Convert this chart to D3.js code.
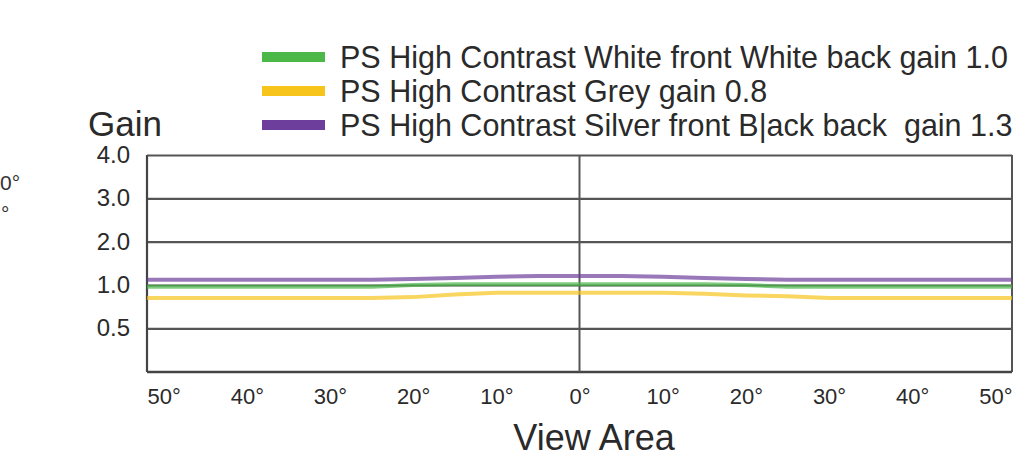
<!DOCTYPE html>
<html>
<head>
<meta charset="utf-8">
<script src="https://cdn.jsdelivr.net/npm/d3@7"></script>
<style>
  body { margin: 0; background: #fff; }
  svg { font-family: "Liberation Sans", Arial, Helvetica, sans-serif; }
  .legend text { white-space: pre; }
</style>
</head>
<body>
<div id="chart"></div>
<script>
// view angle in degrees (negative = left side of the screen)
var angles = [-52, -50, -45, -40, -35, -30, -25, -20, -15, -10, -5, 0, 5, 10, 15, 20, 25, 30, 35, 40, 45, 50, 52];

var greenGain  = [0.98, 0.98, 0.98, 0.98, 0.98, 0.98, 0.98, 1.00, 1.02, 1.02, 1.02, 1.02, 1.02, 1.02, 1.02, 1.00, 0.98, 0.98, 0.98, 0.98, 0.98, 0.98, 0.98];
var yellowGain = [0.85, 0.85, 0.85, 0.85, 0.85, 0.85, 0.85, 0.86, 0.89, 0.91, 0.91, 0.91, 0.91, 0.91, 0.90, 0.88, 0.87, 0.85, 0.85, 0.85, 0.85, 0.85, 0.85];
var purpleGain = [1.12, 1.12, 1.12, 1.12, 1.12, 1.12, 1.12, 1.14, 1.16, 1.19, 1.21, 1.21, 1.21, 1.19, 1.16, 1.14, 1.12, 1.12, 1.12, 1.12, 1.12, 1.12, 1.12];

var seriesNames = [
  "PS High Contrast White front White back gain 1.0",
  "PS High Contrast Grey gain 0.8",
  "PS High Contrast Silver front B|ack back  gain 1.3"
];
var seriesColors = ["#4cb848", "#f7c41c", "#6d3e9c"];

var yTicks = [0.5, 1.0, 2.0, 3.0, 4.0];
var xTicks = [-50, -40, -30, -20, -10, 0, 10, 20, 30, 40, 50];

var width = 1016;
var height = 464;

var svg = d3.select("#chart")
  .append("svg")
  .attr("width", width)
  .attr("height", height);

// plot box (plotTop, not "top": that name is taken by window.top)
var plotLeft = 147, plotRight = 1012, plotTop = 155, plotBottom = 372;

var xScale = d3.scaleLinear()
  .domain([-52, 52])
  .range([plotLeft, plotRight]);

// the gain axis is not linear: each tick gets the same spacing
var yScale = d3.scaleLinear()
  .domain([0, 0.5, 1, 2, 3, 4])
  .range([plotBottom, 328.3, 285, 241.7, 198.3, plotTop]);

// gridlines + y labels
var yAxis = d3.axisLeft(yScale)
  .tickValues(yTicks)
  .tickFormat(d3.format(".1f"))
  .tickSize(-(plotRight - plotLeft))
  .tickPadding(17);

var yG = svg.append("g")
  .attr("class", "yAxis")
  .attr("transform", "translate(" + plotLeft + ",0)")
  .call(yAxis);
yG.select(".domain").remove();
yG.selectAll("line").attr("stroke", "#555").attr("stroke-width", 2.2);
yG.selectAll("text")
  .attr("font-size", 24)
  .attr("fill", "#2a2a2a");

// x labels
var xAxis = d3.axisBottom(xScale)
  .tickValues(xTicks)
  .tickFormat(function(d) { return Math.abs(d) + "°"; })
  .tickSize(0)
  .tickPadding(16);

var xG = svg.append("g")
  .attr("class", "xAxis")
  .attr("transform", "translate(0," + plotBottom + ")")
  .call(xAxis);
xG.select(".domain").remove();
xG.selectAll("text")
  .attr("font-size", 22)
  .attr("fill", "#2a2a2a");

// frame: left, right, bottom and centre line
svg.append("line")
  .attr("x1", plotLeft).attr("x2", plotLeft).attr("y1", plotTop).attr("y2", plotBottom)
  .attr("stroke", "#444").attr("stroke-width", 2.2);
svg.append("line")
  .attr("x1", plotRight).attr("x2", plotRight).attr("y1", plotTop).attr("y2", plotBottom)
  .attr("stroke", "#555").attr("stroke-width", 2);
svg.append("line")
  .attr("x1", plotLeft).attr("x2", plotRight).attr("y1", plotBottom).attr("y2", plotBottom)
  .attr("stroke", "#444").attr("stroke-width", 2.6);
svg.append("line")
  .attr("x1", xScale(0)).attr("x2", xScale(0)).attr("y1", plotTop).attr("y2", plotBottom)
  .attr("stroke", "#555").attr("stroke-width", 2);

// the three gain curves
var allGain = [greenGain, yellowGain, purpleGain];
var line = d3.line()
  .x(function(d, i) { return xScale(angles[i]); })
  .y(function(d) { return yScale(d); });

svg.selectAll("path.gain")
  .data(allGain)
  .enter()
  .append("path")
  .attr("class", "gain")
  .attr("d", line)
  .attr("fill", "none")
  .attr("stroke", function(d, i) { return seriesColors[i]; })
  .attr("stroke-opacity", 0.7)
  .attr("stroke-width", 4);

// legend
var legend = svg.append("g").attr("class", "legend");
var rowY = [57, 91, 125];
seriesNames.forEach(function(name, i) {
  legend.append("rect")
    .attr("x", 262).attr("y", rowY[i] - 5)
    .attr("width", 63).attr("height", 10)
    .attr("fill", seriesColors[i]);
  legend.append("text")
    .attr("x", 340).attr("y", rowY[i])
    .attr("dy", "0.35em")
    .attr("font-size", 30.5)
    .attr("fill", "#2a2a2a")
    .text(name);
});

// titles
svg.append("text")
  .attr("x", 88).attr("y", 124)
  .attr("dy", "0.35em")
  .attr("font-size", 35)
  .attr("fill", "#2a2a2a")
  .text("Gain");

svg.append("text")
  .attr("x", 594).attr("y", 437)
  .attr("dy", "0.35em")
  .attr("text-anchor", "middle")
  .attr("font-size", 36)
  .attr("fill", "#2a2a2a")
  .text("View Area");

// pieces of labels from the neighbouring chart, cropped at the left edge
svg.append("text")
  .attr("x", 0).attr("y", 183)
  .attr("dy", "0.35em")
  .attr("font-size", 21)
  .attr("fill", "#333")
  .text("0°");
svg.append("text")
  .attr("x", 1).attr("y", 214)
  .attr("dy", "0.35em")
  .attr("font-size", 21)
  .attr("fill", "#333")
  .text("°");
</script>
</body>
</html>
